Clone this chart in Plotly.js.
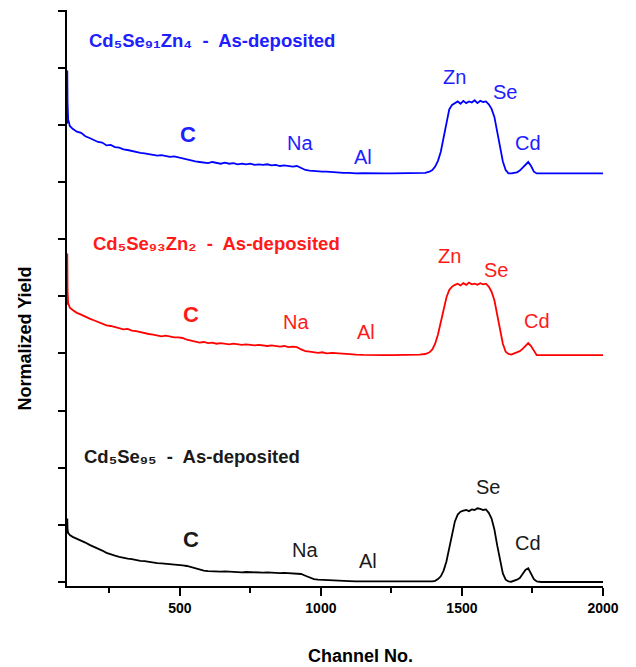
<!DOCTYPE html>
<html>
<head>
<meta charset="utf-8">
<script src="https://cdn.plot.ly/plotly-3.0.1.min.js"></script>
<style>html,body{margin:0;padding:0;background:#fff;}#chart{width:636px;height:667px;}</style>
</head>
<body>
<div id="chart"></div>
<script>
// Channel numbers (x)
var channels = [100,101,102,104,107,110,
120,135,150,165,180,195,210,225,240,255,270,285,300,315,330,345,360,375,390,405,420,435,450,465,480,495,510,525,540,555,570,585,600,615,630,645,660,675,690,705,720,735,750,765,780,795,810,825,840,855,870,885,900,915,930,945,960,975,990,1005,1020,
1040,1060,1080,1100,
1125,1150,1175,1200,1225,1250,1275,1300,1325,1350,
1370,1385,
1395,1405,1415,1425,1435,1445,1455,1465,1475,1485,1495,1505,1515,1525,1535,1545,1555,1565,1575,1585,1595,1605,1615,1625,1635,1645,1655,1665,1675,1685,1695,1705,1715,1725,1735,1745,1755,1765,
1780,1820,1880,1940,2000];

// Cd5Se91Zn4 (blue, offset in plot)
var yieldZn4 = [8.02,8.95,8.40,8.10,8.00,7.98,
7.93,7.88,7.86,7.80,7.77,7.74,7.70,7.69,7.64,7.65,7.61,7.60,7.57,7.56,7.54,7.53,7.51,7.50,7.49,7.48,7.46,7.47,7.45,7.44,7.45,7.43,7.42,7.40,7.37,7.36,7.35,7.34,7.33,7.35,7.33,7.32,7.34,7.32,7.33,7.31,7.32,7.31,7.32,7.30,7.31,7.30,7.31,7.29,7.30,7.28,7.29,7.28,7.27,7.28,7.24,7.21,7.20,7.19,7.19,7.18,7.18,
7.17,7.17,7.16,7.16,
7.15,7.155,7.15,7.15,7.15,7.15,7.15,7.15,7.15,7.155,
7.16,7.18,
7.21,7.27,7.37,7.53,7.78,8.07,8.27,8.35,8.38,8.41,8.37,8.42,8.38,8.41,8.39,8.43,8.38,8.42,8.40,8.41,8.36,8.28,8.14,7.90,7.62,7.36,7.21,7.15,7.15,7.16,7.17,7.20,7.25,7.31,7.35,7.28,7.18,7.15,
7.15,7.15,7.15,7.15,7.15];

// Cd5Se93Zn2 (red, offset in plot)
var yieldZn2 = [4.85,5.75,5.10,4.88,4.82,4.80,
4.76,4.71,4.68,4.64,4.61,4.58,4.55,4.53,4.49,4.48,4.46,4.45,4.42,4.43,4.40,4.39,4.37,4.36,4.34,4.33,4.31,4.30,4.31,4.29,4.28,4.28,4.27,4.24,4.22,4.20,4.19,4.20,4.18,4.19,4.17,4.18,4.17,4.16,4.17,4.16,4.15,4.16,4.15,4.14,4.15,4.14,4.13,4.14,4.13,4.12,4.13,4.11,4.12,4.11,4.07,4.04,4.03,4.02,4.01,4.02,4.00,
4.01,4.00,3.99,3.99,
3.98,3.975,3.97,3.97,3.97,3.97,3.97,3.97,3.97,3.98,
3.99,4.02,
4.07,4.17,4.33,4.53,4.77,4.98,5.11,5.17,5.20,5.22,5.19,5.23,5.20,5.24,5.21,5.22,5.20,5.23,5.21,5.22,5.17,5.08,4.93,4.68,4.40,4.17,4.03,3.99,3.98,4.00,4.01,4.04,4.08,4.13,4.18,4.13,4.05,3.97,
3.97,3.97,3.97,3.97,3.97];

// Cd5Se95 (black)
var yieldSe95 = [0.85,1.11,0.92,0.86,0.83,0.82,
0.79,0.76,0.72,0.69,0.65,0.62,0.58,0.55,0.51,0.48,0.46,0.44,0.42,0.41,0.40,0.38,0.37,0.365,0.35,0.34,0.33,0.325,0.32,0.31,0.30,0.295,0.29,0.28,0.26,0.24,0.21,0.20,0.19,0.185,0.19,0.18,0.185,0.18,0.175,0.18,0.17,0.175,0.17,0.172,0.17,0.165,0.168,0.16,0.162,0.155,0.158,0.155,0.152,0.15,0.14,0.11,0.075,0.05,0.04,0.035,0.03,
0.025,0.02,0.02,0.015,
0.01,0.01,0.005,0.0,0.0,0.0,0.0,0.0,0.0,0.0,
0.0,0.005,
0.01,0.02,0.05,0.10,0.20,0.36,0.60,0.86,1.06,1.18,1.23,1.25,1.26,1.24,1.27,1.26,1.29,1.28,1.26,1.27,1.21,1.11,0.92,0.64,0.36,0.15,0.04,0.01,0.005,0.02,0.04,0.07,0.13,0.21,0.24,0.14,0.05,0.01,
0.0,0.0,0.0,0.0,0.0];

var seriesNames = ['Cd\u2085Se\u2089\u2081Zn\u2084  -  As-deposited',
                   'Cd\u2085Se\u2089\u2083Zn\u2082  -  As-deposited',
                   'Cd\u2085Se\u2089\u2085  -  As-deposited'];
var seriesColors = ['#0000ff', '#ff0000', '#000000'];
var textColors = ['#2020ff', '#ff1a1a', '#1a1a1a'];
var xTickVals = [500, 1000, 1500, 2000];
var xTickText = ['500', '1000', '1500', '2000'];

// element labels: [text, channel, yield, seriesIndex, bold?, size]
var elementLabels = [
  ['C', 528, 7.83, 0, true, 22], ['Na', 926, 7.675, 0, false, 20], ['Al', 1149, 7.43, 0, false, 20],
  ['Zn', 1472, 8.83, 0, false, 20], ['Se', 1652, 8.57, 0, false, 20], ['Cd', 1734, 7.69, 0, false, 20],
  ['C', 539, 4.685, 1, true, 22], ['Na', 911, 4.545, 1, false, 20], ['Al', 1160, 4.37, 1, false, 20],
  ['Zn', 1457, 5.70, 1, false, 20], ['Se', 1621, 5.455, 1, false, 20], ['Cd', 1766, 4.56, 1, false, 20],
  ['C', 539, 0.75, 2, true, 22], ['Na', 943, 0.56, 2, false, 20], ['Al', 1167, 0.367, 2, false, 20],
  ['Se', 1592, 1.66, 2, false, 20], ['Cd', 1734, 0.68, 2, false, 20]
];
// series titles: [channel, yield] (left anchored)
var titlePos = [[172, 9.47], [186, 5.92], [154, 2.19]];

var FONT = 'Liberation Sans, Arial, sans-serif';
var ys = [yieldZn4, yieldZn2, yieldSe95];
var traces = ys.map(function (y, i) {
  return {x: channels, y: y, type: 'scatter', mode: 'lines', name: seriesNames[i],
          line: {color: seriesColors[i], width: 1.8}, hoverinfo: 'skip'};
});

var annotations = [];
elementLabels.forEach(function (L) {
  annotations.push({x: L[1], y: L[2], xref: 'x', yref: 'y', text: L[0], showarrow: false,
    xanchor: 'center', yanchor: 'middle',
    font: {family: FONT, size: L[5], color: textColors[L[3]], weight: L[4] ? 'bold' : 'normal'}});
});
titlePos.forEach(function (p, i) {
  annotations.push({x: p[0], y: p[1], xref: 'x', yref: 'y', text: seriesNames[i], showarrow: false,
    xanchor: 'left', yanchor: 'middle',
    font: {family: FONT, size: 18.5, color: textColors[i], weight: 'bold'}});
});
annotations.push({x: -0.078, y: 0.43, xref: 'paper', yref: 'paper', text: 'Normalized Yield',
  textangle: -90, showarrow: false, xanchor: 'center', yanchor: 'middle',
  font: {family: FONT, size: 18, color: '#000', weight: 'bold'}});
annotations.push({x: 0.547, y: -0.1215, xref: 'paper', yref: 'paper', text: 'Channel No.',
  showarrow: false, xanchor: 'center', yanchor: 'middle',
  font: {family: FONT, size: 18, color: '#000', weight: 'bold'}});

var layout = {
  width: 636, height: 667,
  margin: {l: 67, r: 33, t: 10, b: 81, pad: 0},
  paper_bgcolor: '#fff', plot_bgcolor: '#fff',
  showlegend: false,
  xaxis: {range: [100, 2000], showgrid: false, zeroline: false,
    showline: true, linecolor: '#000', linewidth: 2,
    ticks: 'outside', ticklen: 8, tickwidth: 2, tickcolor: '#000',
    tickvals: xTickVals, ticktext: xTickText,
    tickfont: {family: FONT, size: 14, color: '#000', weight: 'bold'},
    minor: {dtick: 250, tick0: 0, ticks: 'outside', ticklen: 5, tickwidth: 2, tickcolor: '#000', showgrid: false}},
  yaxis: {range: [-0.07, 10.01], showgrid: false, zeroline: false,
    showline: true, linecolor: '#000', linewidth: 2,
    ticks: 'outside', ticklen: 7, tickwidth: 2, tickcolor: '#000',
    dtick: 1, tick0: 0, showticklabels: false},
  annotations: annotations
};

Plotly.newPlot('chart', traces, layout, {displayModeBar: false, staticPlot: true});
</script>
</body>
</html>
